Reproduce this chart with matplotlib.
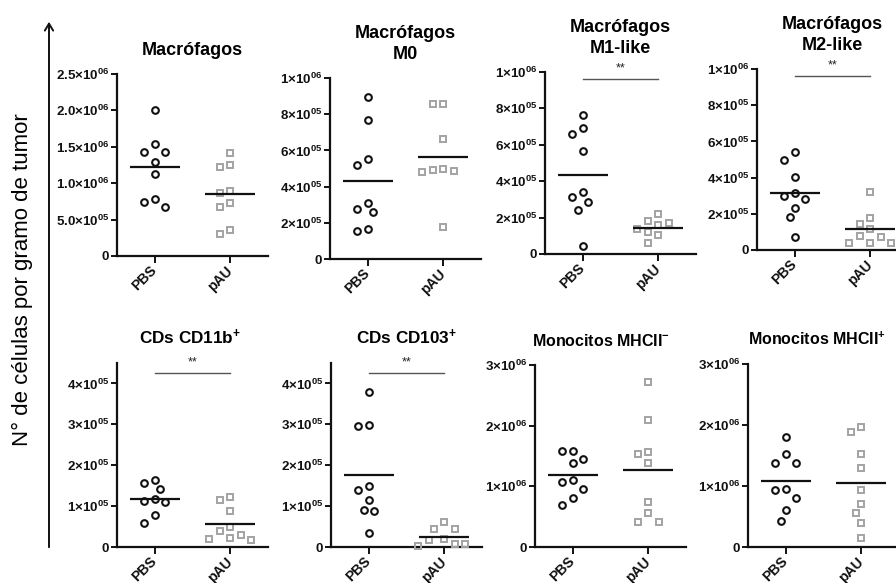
import numpy as np
import matplotlib
matplotlib.use("Agg")
import matplotlib.pyplot as plt

plt.rcParams['font.family'] = ['Liberation Sans', 'DejaVu Sans']
plt.rcParams['mathtext.fontset'] = 'custom'
plt.rcParams['mathtext.rm'] = 'Liberation Sans:bold'
plt.rcParams['mathtext.bf'] = 'Liberation Sans:bold'
plt.rcParams['mathtext.it'] = 'Liberation Sans:bold:italic'
plt.rcParams['mathtext.sf'] = 'Liberation Sans:bold'

groups = ["PBS", "pAU"]

titles = [
    "Macrófagos",
    "Macrófagos\nM0",
    "Macrófagos\nM1-like",
    "Macrófagos\nM2-like",
    "CDs CD11b$^{+}$",
    "CDs CD103$^{+}$",
    "Monocitos MHCII$^{-}$",
    "Monocitos MHCII$^{+}$",
]

# cells per gram of tumour, one list per group
macro_pbs = [2.005e6, 1.534e6, 1.433e6, 1.424e6, 1.287e6, 1.126e6, 0.788e6, 0.678e6, 0.742e6]
macro_pau = [1.410e6, 1.250e6, 1.227e6, 0.870e6, 0.893e6, 0.733e6, 0.668e6, 0.298e6, 0.357e6]

m0_pbs = [8.95e5, 7.67e5, 5.55e5, 5.18e5, 3.07e5, 2.79e5, 2.57e5, 1.56e5, 1.67e5]
m0_pau = [8.55e5, 8.55e5, 6.65e5, 5.00e5, 4.87e5, 4.78e5, 4.94e5, 1.75e5]

m1_pbs = [7.61e5, 6.93e5, 6.62e5, 5.68e5, 3.38e5, 3.14e5, 2.83e5, 2.43e5, 0.46e5]
m1_pau = [2.19e5, 1.79e5, 1.61e5, 1.73e5, 1.37e5, 1.20e5, 1.02e5, 0.60e5]

m2_pbs = [5.40e5, 4.97e5, 4.05e5, 3.13e5, 2.98e5, 2.80e5, 2.34e5, 1.80e5, 0.74e5]
m2_pau = [3.22e5, 1.75e5, 1.44e5, 1.14e5, 0.77e5, 0.41e5, 0.37e5, 0.41e5, 0.74e5]

cd11b_pbs = [1.64e5, 1.56e5, 1.41e5, 1.18e5, 1.13e5, 1.10e5, 0.78e5, 0.59e5]
cd11b_pau = [1.23e5, 1.14e5, 0.88e5, 0.49e5, 0.38e5, 0.23e5, 0.16e5, 0.19e5, 0.29e5]

cd103_pbs = [3.80e5, 2.99e5, 2.95e5, 1.50e5, 1.39e5, 1.15e5, 0.90e5, 0.88e5, 0.34e5]
cd103_pau = [0.60e5, 0.43e5, 0.43e5, 0.18e5, 0.20e5, 0.07e5, 0.02e5, 0.07e5]

mhc_neg_pbs = [1.58e6, 1.58e6, 1.45e6, 1.39e6, 1.07e6, 1.10e6, 0.96e6, 0.80e6, 0.69e6]
mhc_neg_pau = [2.72e6, 2.09e6, 1.56e6, 1.54e6, 1.38e6, 0.75e6, 0.56e6, 0.42e6, 0.42e6]

mhc_pos_pbs = [1.80e6, 1.52e6, 1.38e6, 1.38e6, 0.94e6, 0.95e6, 0.81e6, 0.60e6, 0.43e6]
mhc_pos_pau = [1.97e6, 1.89e6, 1.52e6, 1.30e6, 0.94e6, 0.71e6, 0.55e6, 0.39e6, 0.15e6]

pbs_sets = [macro_pbs, m0_pbs, m1_pbs, m2_pbs, cd11b_pbs, cd103_pbs, mhc_neg_pbs, mhc_pos_pbs]
pau_sets = [macro_pau, m0_pau, m1_pau, m2_pau, cd11b_pau, cd103_pau, mhc_neg_pau, mhc_pos_pau]

y_max = [2.5e6, 1e6, 1e6, 1e6, 4.5e5, 4.5e5, 3e6, 3e6]
y_ticks = [
    [0, 5e5, 1e6, 1.5e6, 2e6, 2.5e6],
    [0, 2e5, 4e5, 6e5, 8e5, 1e6],
    [0, 2e5, 4e5, 6e5, 8e5, 1e6],
    [0, 2e5, 4e5, 6e5, 8e5, 1e6],
    [0, 1e5, 2e5, 3e5, 4e5],
    [0, 1e5, 2e5, 3e5, 4e5],
    [0, 1e6, 2e6, 3e6],
    [0, 1e6, 2e6, 3e6],
]
y_ticklabels = [
    ["0", r"$5.0{\times}10^{05}$", r"$1.0{\times}10^{06}$", r"$1.5{\times}10^{06}$",
     r"$2.0{\times}10^{06}$", r"$2.5{\times}10^{06}$"],
    ["0", r"$2{\times}10^{05}$", r"$4{\times}10^{05}$", r"$6{\times}10^{05}$",
     r"$8{\times}10^{05}$", r"$1{\times}10^{06}$"],
    ["0", r"$2{\times}10^{05}$", r"$4{\times}10^{05}$", r"$6{\times}10^{05}$",
     r"$8{\times}10^{05}$", r"$1{\times}10^{06}$"],
    ["0", r"$2{\times}10^{05}$", r"$4{\times}10^{05}$", r"$6{\times}10^{05}$",
     r"$8{\times}10^{05}$", r"$1{\times}10^{06}$"],
    ["0", r"$1{\times}10^{05}$", r"$2{\times}10^{05}$", r"$3{\times}10^{05}$", r"$4{\times}10^{05}$"],
    ["0", r"$1{\times}10^{05}$", r"$2{\times}10^{05}$", r"$3{\times}10^{05}$", r"$4{\times}10^{05}$"],
    ["0", r"$1{\times}10^{06}$", r"$2{\times}10^{06}$", r"$3{\times}10^{06}$"],
    ["0", r"$1{\times}10^{06}$", r"$2{\times}10^{06}$", r"$3{\times}10^{06}$"],
]

# significance bars (height, label); None where no comparison is shown
signif = [None, None, (9.6e5, "**"), (9.6e5, "**"), (4.25e5, "**"), (4.25e5, "**"), None, None]

ylabel = "N° de células por gramo de tumor"

W, H = 896, 583
fig = plt.figure(figsize=(W / 100, H / 100), dpi=100)

# axes frames in pixels: left, top, right, bottom
frames = [
    (117, 74, 268, 256),
    (330, 78, 481, 259),
    (545, 72, 696, 254),
    (757, 69, 908, 250),
    (117, 363, 268, 547),
    (331, 363, 482, 547),
    (535, 365, 686, 547),
    (748, 364, 899, 547),
]
title_size = [13, 13, 13, 13, 12.3, 12.3, 11.5, 11.5]
title_x = [0.5, 0.5, 0.5, 0.5, 0.48, 0.5, 0.44, 0.46]

DIAM = 8.0     # marker footprint in pixels
MEAN_HALF = 0.33


def swarm(ax, xc, values):
    """Spread overlapping points sideways (beeswarm in pixel space)."""
    vals = np.asarray(values, dtype=float)
    order = np.argsort(-vals, kind="stable")
    ypx = np.array([ax.transData.transform((0, v))[1] for v in vals])
    upx = ax.transData.transform((1, 0))[0] - ax.transData.transform((0, 0))[0]
    thresh = DIAM * 1.3
    step = thresh / 2.0
    cands = [0.0]
    for k in range(1, 12):
        cands += [-k * step, k * step]
    placed = []
    xoff = np.zeros(len(vals))
    for i in order:
        for c in cands:
            ok = all((c - px) ** 2 + (ypx[i] - py) ** 2 >= thresh ** 2 for px, py in placed)
            if ok:
                xoff[i] = c
                placed.append((c, ypx[i]))
                break
    return xc + xoff / upx


for k in range(8):
    l, t, r, b = frames[k]
    ax = fig.add_axes([l / W, 1 - b / H, (r - l) / W, (b - t) / H])
    ax.set_xlim(-0.5, 1.5)
    ax.set_ylim(0, y_max[k])
    for s in ("top", "right"):
        ax.spines[s].set_visible(False)
    for s in ("left", "bottom"):
        ax.spines[s].set_linewidth(1.6)
        ax.spines[s].set_color("#111111")
    ax.patch.set_alpha(0)

    ax.set_yticks(y_ticks[k])
    ax.set_yticklabels(y_ticklabels[k])
    ax.set_xticks([0, 1])
    ax.set_xticklabels(groups, rotation=45, ha="right", va="center",
                       rotation_mode="anchor", fontsize=10, fontweight="bold")
    ax.tick_params(axis="y", direction="out", length=4, width=1.4, pad=1.5,
                   labelsize=9.6, colors="#111111")
    ax.tick_params(axis="x", direction="out", length=5, width=1.4, pad=4,
                   colors="#111111")
    for lab in ax.get_yticklabels():
        lab.set_fontweight("bold")

    ax.set_title(titles[k], fontsize=title_size[k], fontweight="bold", pad=14,
                 linespacing=1.25, x=title_x[k])

    pbs = pbs_sets[k]
    pau = pau_sets[k]
    xp = swarm(ax, 0, pbs)
    xa = swarm(ax, 1, pau)
    ax.plot(xp, pbs, linestyle="none", marker="o", ms=4.8, mew=1.5,
            mfc="none", mec="#111111", clip_on=False, zorder=3)
    ax.plot(xa, pau, linestyle="none", marker="s", ms=4.6, mew=1.4,
            mfc="none", mec="#a3a3a3", clip_on=False, zorder=3)

    for xc, vals in ((0, pbs), (1, pau)):
        m = float(np.mean(vals))
        ax.plot([xc - MEAN_HALF, xc + MEAN_HALF], [m, m], color="#111111",
                lw=1.6, solid_capstyle="butt", zorder=4)

    if signif[k] is not None:
        h, lab = signif[k]
        ax.plot([0, 1], [h, h], color="#555555", lw=1.0, clip_on=False, zorder=2)
        ax.annotate(lab, xy=(0.5, h), xytext=(0, 3.5), textcoords="offset points",
                    ha="center", va="bottom", fontsize=9, color="#222222")

# shared y-axis caption with arrow
fig.text(22 / W, 1 - 280 / H, ylabel, rotation=90, ha="center", va="center",
         fontsize=16)
fig.add_artist(matplotlib.patches.FancyArrowPatch(
    (49 / W, 1 - 550 / H), (49 / W, 1 - 19 / H), transform=fig.transFigure,
    arrowstyle="->,head_length=5,head_width=3", lw=1.4, color="#111111",
    mutation_scale=1))

fig.savefig("out.png", dpi=100)
